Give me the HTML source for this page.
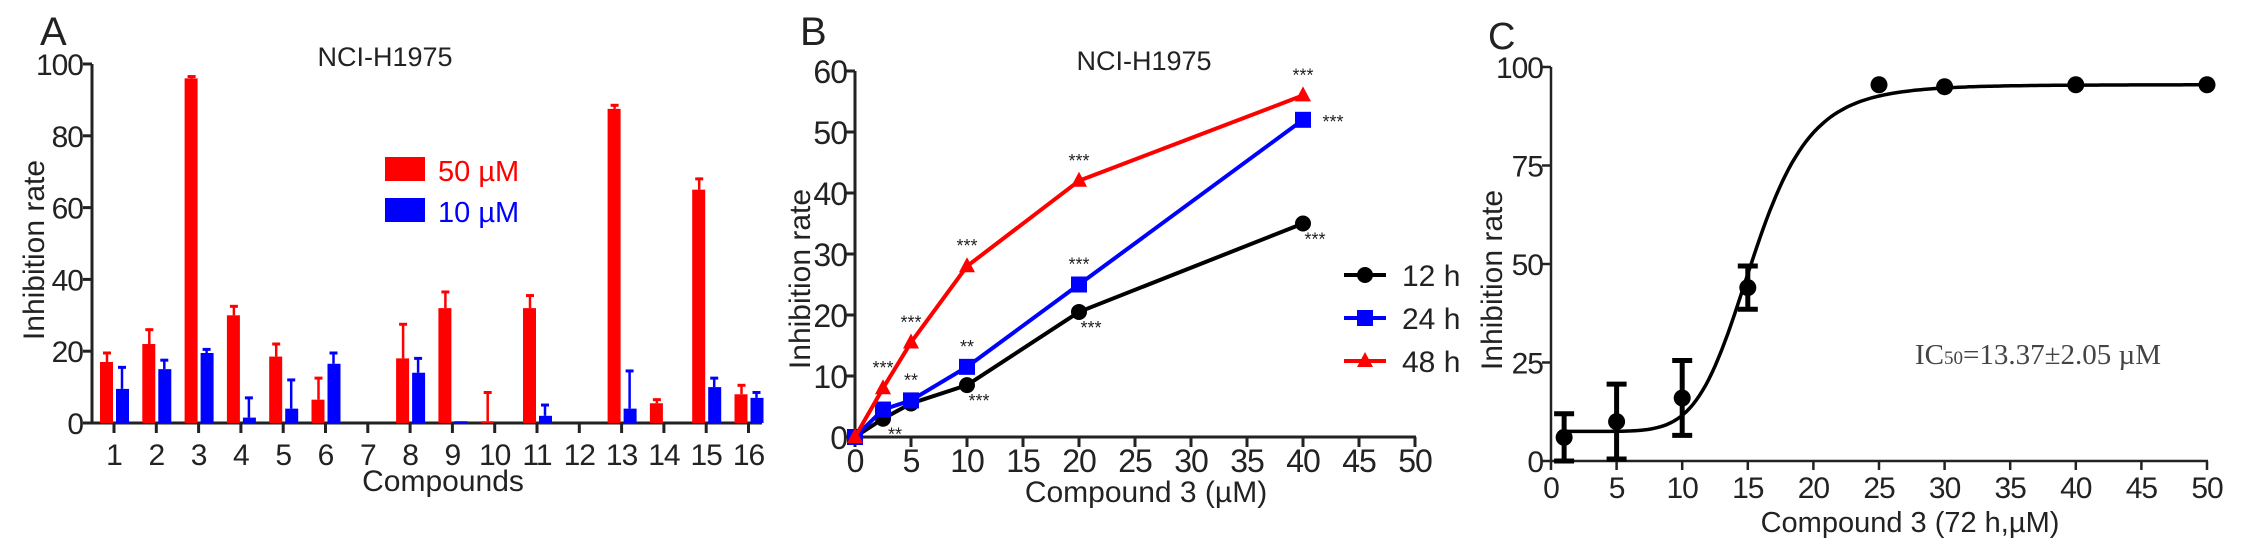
<!DOCTYPE html>
<html><head><meta charset="utf-8">
<style>
html,body{margin:0;padding:0;background:#fff;}
svg{display:block;}
text{font-family:"Liberation Sans",Arial,sans-serif;fill:#222;}
</style></head>
<body>
<svg id="fig" width="2244" height="544" viewBox="0 0 2244 544" xmlns="http://www.w3.org/2000/svg">
<g id="pa"></g>
<g id="pb"></g>
<g id="pc"></g>
</svg>
<script>
// ---------- Panel A data ----------
const aCategories = ["1","2","3","4","5","6","7","8","9","10","11","12","13","14","15","16"];
const a50Values = [17,22,96,30,18.5,6.5,0,18,32,0.5,32,0,87.5,5.5,65,8];
const a50Errors = [2.5,4,0.5,2.5,3.5,6,0,9.5,4.5,8,3.5,0,1,1,3,2.5];
const a10Values = [9.5,15,19.5,1.5,4,16.5,0,14,0.5,0,2,0,4,0,10,7];
const a10Errors = [6,2.5,1,5.5,8,3,0,4,0,0,3,0,10.5,0,2.5,1.5];
const aYTicks = [0,20,40,60,80,100];

// ---------- Panel B data ----------
const bDoses = [0,2.5,5,10,20,40];
const b12h = [0,3,5.5,8.5,20.5,35];
const b24h = [0,4.5,6,11.5,25,52];
const b48h = [0,8,15.5,28,42,56];
const bXTicks = [0,5,10,15,20,25,30,35,40,45,50];
const bYTicks = [0,10,20,30,40,50,60];
const b12hStars = ["","**","","***","***","***"];
const b24hStars = ["","","**","**","***","***"];
const b48hStars = ["","***","***","***","***","***"];

// ---------- Panel C data ----------
const cDoses = [1,5,10,15,25,30,40,50];
const cValues = [6,10,16,44,95.5,95,95.5,95.5];
const cErrors = [6,9.5,9.5,5.5,0,0,0,0];
const cXTicks = [0,5,10,15,20,25,30,35,40,45,50];
const cYTicks = [0,25,50,75,100];
const cFitBottom = 7.5, cFitTop = 95.5, cFitEC50 = 15.4, cFitHill = 7;

const NS="http://www.w3.org/2000/svg";
function mk(parent,tag,attrs,txt){const e=document.createElementNS(NS,tag);for(const k in attrs)e.setAttribute(k,attrs[k]);if(txt!==undefined)e.textContent=txt;parent.appendChild(e);return e;}

// ================= PANEL A =================
(function(){
const g=document.getElementById('pa');
const X0=92,X1=762,Y0=423,Y100=64;
const ay=v=>Y0-(v/100)*(Y0-Y100);
const ax=i=>114+i*42.3;
let t;
t=mk(g,'text',{x:40,y:45,'font-size':40});t.textContent='A';


t=mk(g,'text',{x:385,y:66,'font-size':27,'text-anchor':'middle'},'NCI-H1975');


let l=mk(g,'line',{x1:X0,y1:Y100,x2:X0,y2:Y0+1,stroke:'#222','stroke-width':3});


l=mk(g,'line',{x1:X0-1,y1:Y0,x2:X1,y2:Y0,stroke:'#222','stroke-width':3});


aYTicks.forEach(v=>{
  const y=ay(v);
  mk(g,'line',{x1:X0-9,y1:y,x2:X0,y2:y,stroke:'#222','stroke-width':3});
  const tt=mk(g,'text',{x:X0-9,y:y+11,'font-size':30,'text-anchor':'end','letter-spacing':-1},String(v));
  
  
});
aCategories.forEach((c,i)=>{
  const x=ax(i);
  mk(g,'line',{x1:x,y1:Y0,x2:x,y2:Y0+10,stroke:'#222','stroke-width':3});
  const tt=mk(g,'text',{x:x,y:465,'font-size':30,'text-anchor':'middle','letter-spacing':-1},c);
  
  
  if(a50Values[i]>0){
    const top=ay(a50Values[i]);
    if(a50Errors[i]>0){
      const et=ay(a50Values[i]+a50Errors[i]);
      mk(g,'line',{x1:x-7,y1:top,x2:x-7,y2:et,stroke:'#f00','stroke-width':2.5});
      mk(g,'line',{x1:x-11,y1:et,x2:x-3,y2:et,stroke:'#f00','stroke-width':3});
    }
    const r=mk(g,'rect',{x:x-14,y:top,width:13,height:Y0-top,fill:'#f00'});
    
    
  }
  if(a10Values[i]>0){
    const top=ay(a10Values[i]);
    if(a10Errors[i]>0){
      const et=ay(a10Values[i]+a10Errors[i]);
      mk(g,'line',{x1:x+8,y1:top,x2:x+8,y2:et,stroke:'#00f','stroke-width':2.5});
      mk(g,'line',{x1:x+4,y1:et,x2:x+12,y2:et,stroke:'#00f','stroke-width':3});
    }
    const r=mk(g,'rect',{x:x+2,y:top,width:13,height:Y0-top,fill:'#00f'});
    
    
  }
});
t=mk(g,'text',{x:443,y:491,'font-size':30,'text-anchor':'middle'},'Compounds');


t=mk(g,'text',{x:0,y:0,'font-size':30,'text-anchor':'middle',transform:'translate(44,250) rotate(-90)'},'Inhibition rate');


let r=mk(g,'rect',{x:385,y:157,width:40,height:24,fill:'#f00'});


t=mk(g,'text',{x:438,y:181,'font-size':29,style:'fill:#f00'},'50 µM');


r=mk(g,'rect',{x:385,y:198,width:40,height:24,fill:'#00f'});


t=mk(g,'text',{x:438,y:222,'font-size':29,style:'fill:#00f'},'10 µM');


})();

// ================= PANEL B =================
(function(){
const g=document.getElementById('pb');
const X0=855,Y0=437;
const bx=v=>X0+v*11.2;
const by=v=>Y0-v*6.1;
let t;
t=mk(g,'text',{x:800,y:45,'font-size':40},'B');


t=mk(g,'text',{x:1144,y:70,'font-size':27,'text-anchor':'middle'},'NCI-H1975');


let l=mk(g,'line',{x1:X0,y1:by(60),x2:X0,y2:Y0+1,stroke:'#222','stroke-width':3});


l=mk(g,'line',{x1:X0-1,y1:Y0,x2:bx(50)+1,y2:Y0,stroke:'#222','stroke-width':3});


bYTicks.forEach(v=>{const y=by(v);
  mk(g,'line',{x1:X0-9,y1:y,x2:X0,y2:y,stroke:'#222','stroke-width':3});
  const tt=mk(g,'text',{x:X0-8,y:y+12,'font-size':32,'text-anchor':'end','letter-spacing':-1},String(v));
  
  });
bXTicks.forEach(v=>{const x=bx(v);
  mk(g,'line',{x1:x,y1:Y0,x2:x,y2:Y0+10,stroke:'#222','stroke-width':3});
  const tt=mk(g,'text',{x:x,y:472,'font-size':32,'text-anchor':'middle','letter-spacing':-1},String(v));
  
  });
t=mk(g,'text',{x:1146,y:502,'font-size':30,'text-anchor':'middle'},'Compound 3 (µM)');


t=mk(g,'text',{x:0,y:0,'font-size':30,'text-anchor':'middle',transform:'translate(810,279) rotate(-90)'},'Inhibition rate');


function marker(p,shape,x,y,col){
  if(shape==='circle')return mk(p,'circle',{cx:x,cy:y,r:8,fill:col});
  if(shape==='square')return mk(p,'rect',{x:x-8,y:y-8,width:16,height:16,fill:col});
  return mk(p,'polygon',{points:`${x},${y-9} ${x-8},${y+6} ${x+8},${y+6}`,fill:col});
}
const series=[
  {name:'12h',vals:b12h,stars:b12hStars,col:'#000',shape:'circle',dx:12,dy:22},
  {name:'24h',vals:b24h,stars:b24hStars,col:'#00f',shape:'square',dx:0,dy:-14},
  {name:'48h',vals:b48h,stars:b48hStars,col:'#f00',shape:'triangle',dx:0,dy:-14}];
series.forEach(s=>{
  const sg=mk(g,'g',{});
  
  
  const pts=bDoses.map((d,i)=>bx(d)+','+by(s.vals[i])).join(' ');
  const pl=mk(sg,'polyline',{points:pts,fill:'none',stroke:s.col,'stroke-width':4,'stroke-linejoin':'round'});
  
  
  bDoses.forEach((d,i)=>{
    const m=marker(sg,s.shape,bx(d),by(s.vals[i]),s.col);
    
    
    if(s.stars[i]){
      let dx=s.dx,dy=s.dy;
      if(s.name==='24h'&&i===5){dx=30;dy=8;}
      const st=mk(sg,'text',{x:bx(d)+dx,y:by(s.vals[i])+dy,'font-size':18,'text-anchor':'middle'},s.stars[i]);
      
      
    }
  });
});
const lg=[['12 h','#000','circle',275],['24 h','#00f','square',318],['48 h','#f00','triangle',361]];
lg.forEach(e=>{
  const eg=mk(g,'g',{});
  
  
  mk(eg,'line',{x1:1344,y1:e[3],x2:1386,y2:e[3],stroke:e[1],'stroke-width':4});
  marker(eg,e[2],1365,e[3],e[1]);
  mk(eg,'text',{x:1402,y:e[3]+11,'font-size':30},e[0]);
});
})();

// ================= PANEL C =================
(function(){
const g=document.getElementById('pc');
const X0=1551,Y0=461;
const cx=v=>X0+v*13.12;
const cy=v=>Y0-v*3.94;
let t;
t=mk(g,'text',{x:1488,y:49,'font-size':38},'C');


let l=mk(g,'line',{x1:X0,y1:cy(100),x2:X0,y2:Y0+1,stroke:'#222','stroke-width':2.5});


l=mk(g,'line',{x1:X0-1,y1:Y0,x2:cx(50)+1,y2:Y0,stroke:'#222','stroke-width':2.5});


cYTicks.forEach(v=>{const y=cy(v);
  mk(g,'line',{x1:X0-9,y1:y,x2:X0,y2:y,stroke:'#222','stroke-width':2.5});
  const tt=mk(g,'text',{x:X0-8,y:y+11,'font-size':30,'text-anchor':'end','letter-spacing':-1},String(v));
  
  });
cXTicks.forEach(v=>{const x=cx(v);
  mk(g,'line',{x1:x,y1:Y0,x2:x,y2:Y0+9,stroke:'#222','stroke-width':2.5});
  const tt=mk(g,'text',{x:x,y:498,'font-size':30,'text-anchor':'middle','letter-spacing':-1},String(v));
  
  });
t=mk(g,'text',{x:1910,y:532,'font-size':29,'text-anchor':'middle'},'Compound 3 (72 h,µM)');


t=mk(g,'text',{x:0,y:0,'font-size':30,'text-anchor':'middle',transform:'translate(1502,280) rotate(-90)'},'Inhibition rate');


let d='';
for(let k=0;k<=200;k++){const x=1+k*(49/200);
  const y=cFitBottom+(cFitTop-cFitBottom)/(1+Math.pow(cFitEC50/x,cFitHill));
  d+=(k?'L':'M')+cx(x).toFixed(1)+','+cy(y).toFixed(1);}
const p=mk(g,'path',{d:d,fill:'none',stroke:'#000','stroke-width':3.5});


cDoses.forEach((dd,i)=>{
  const x=cx(dd),y=cy(cValues[i]);
  if(cErrors[i]>0){
    const e1=cy(cValues[i]+cErrors[i]),e2=cy(Math.max(0,cValues[i]-cErrors[i]));
    const eb=mk(g,'path',{d:`M${x},${e1}L${x},${e2}M${x-10},${e1}L${x+10},${e1}M${x-10},${e2}L${x+10},${e2}`,stroke:'#000','stroke-width':5,fill:'none'});
    
    
  }
  const c=mk(g,'circle',{cx:x,cy:y,r:8.5,fill:'#000'});
  
  
});
t=mk(g,'text',{x:1915,y:364,'font-size':29,style:'font-family:"Liberation Serif",serif;fill:#444'});
t.innerHTML='IC<tspan font-size="19">50</tspan>=13.37±2.05 µM';


})();
</script>
</body></html>
